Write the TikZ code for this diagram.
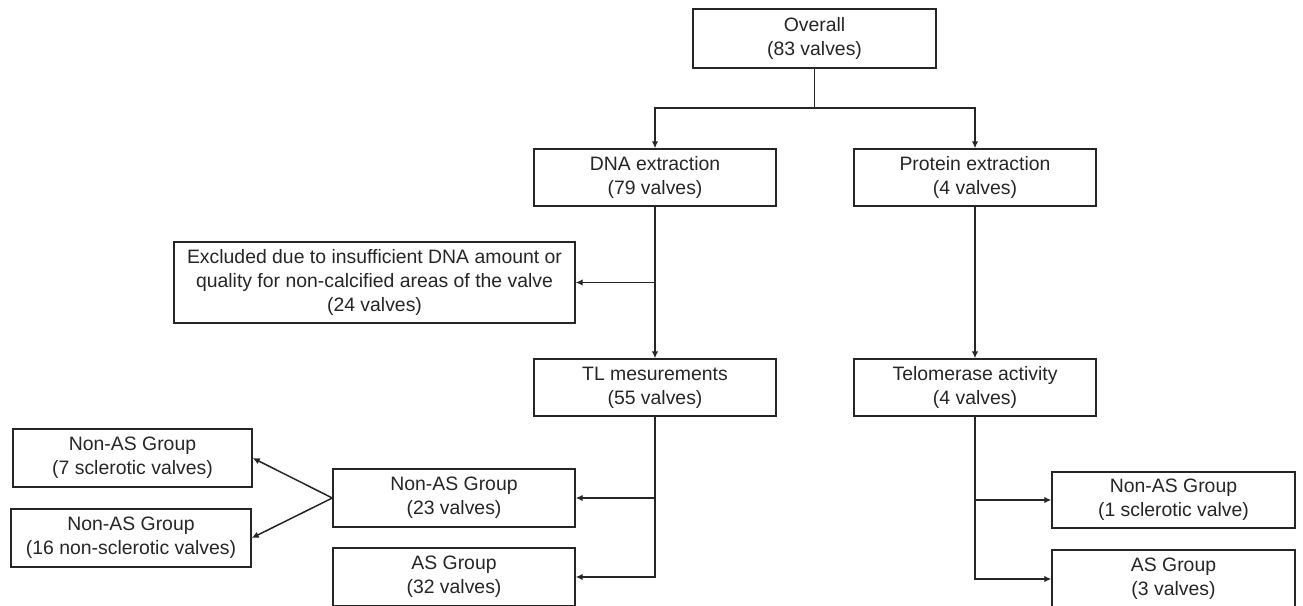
\documentclass[tikz,border=0pt]{standalone}
\usepackage{fontspec}
\setmainfont{Liberation Sans}
\usetikzlibrary{arrows.meta}
\begin{document}
\begin{tikzpicture}[x=1pt,y=-1pt,
  box/.style={draw=black!85, line width=1.4pt, fill=white, align=center, inner sep=0pt,
    font=\fontsize{19.4}{24}\selectfont, text=black!85},
  con/.style={draw=black!85, line width=1.5pt},
  arr/.style={con, -{Latex[length=7pt,width=6.5pt]}}]
\clip (0,0) rectangle (1303,605);
\useasboundingbox (0,0) rectangle (1303,605);
\fill[white] (0,0) rectangle (1303,605);

\node[box, minimum width=243pt, minimum height=59pt] (overall) at (814.5,38.5) {Overall\\(83 valves)};
\node[box, minimum width=242pt, minimum height=57pt] (dna) at (655,177.5) {DNA extraction\\(79 valves)};
\node[box, minimum width=242pt, minimum height=57pt] (protein) at (975,177.5) {Protein extraction\\(4 valves)};
\node[box, minimum width=401pt, minimum height=81pt] (excl) at (374.5,282.5) {Excluded due to insufficient DNA amount or\\quality for non-calcified areas of the valve\\(24 valves)};
\node[box, minimum width=242pt, minimum height=57pt] (tl) at (655,387.5) {TL mesurements\\(55 valves)};
\node[box, minimum width=242pt, minimum height=57pt] (telo) at (975,387.5) {Telomerase activity\\(4 valves)};
\node[box, minimum width=242pt, minimum height=58pt] (nonas23) at (454,498) {Non-AS Group\\(23 valves)};
\node[box, minimum width=242pt, minimum height=58pt] (as32) at (454,577) {AS Group\\(32 valves)};
\node[box, minimum width=239pt, minimum height=58pt] (nonas7) at (132.5,458) {Non-AS Group\\(7 sclerotic valves)};
\node[box, minimum width=240pt, minimum height=58pt] (nonas16) at (131,538) {Non-AS Group\\(16 non-sclerotic valves)};
\node[box, minimum width=243pt, minimum height=56pt] (nonas1) at (1173.5,500) {Non-AS Group\\(1 sclerotic valve)};
\node[box, minimum width=243pt, minimum height=58pt] (as3) at (1173.5,579) {AS Group\\(3 valves)};

\coordinate (split) at (814.5,108);
\draw[con] (overall.south) -- (split);
\draw[arr] (split) -| (dna.north);
\draw[arr] (split) -| (protein.north);

\draw[arr] (dna.south) -- (tl.north);
\coordinate (exj) at (655,282.5);
\draw[arr] (exj) -- (excl.east);
\draw[arr] (protein.south) -- (telo.north);

\coordinate (tlj) at (655,498);
\draw[arr] (tl.south) |- (as32.east);
\draw[arr] (tlj) -- (nonas23.east);

\coordinate (teloj) at (975,500);
\draw[arr] (telo.south) |- (as3.west);
\draw[arr] (teloj) -- (nonas1.west);

\draw[arr] (nonas23.west) -- (nonas7.east);
\draw[arr] (nonas23.west) -- (nonas16.east);
\end{tikzpicture}
\end{document}
